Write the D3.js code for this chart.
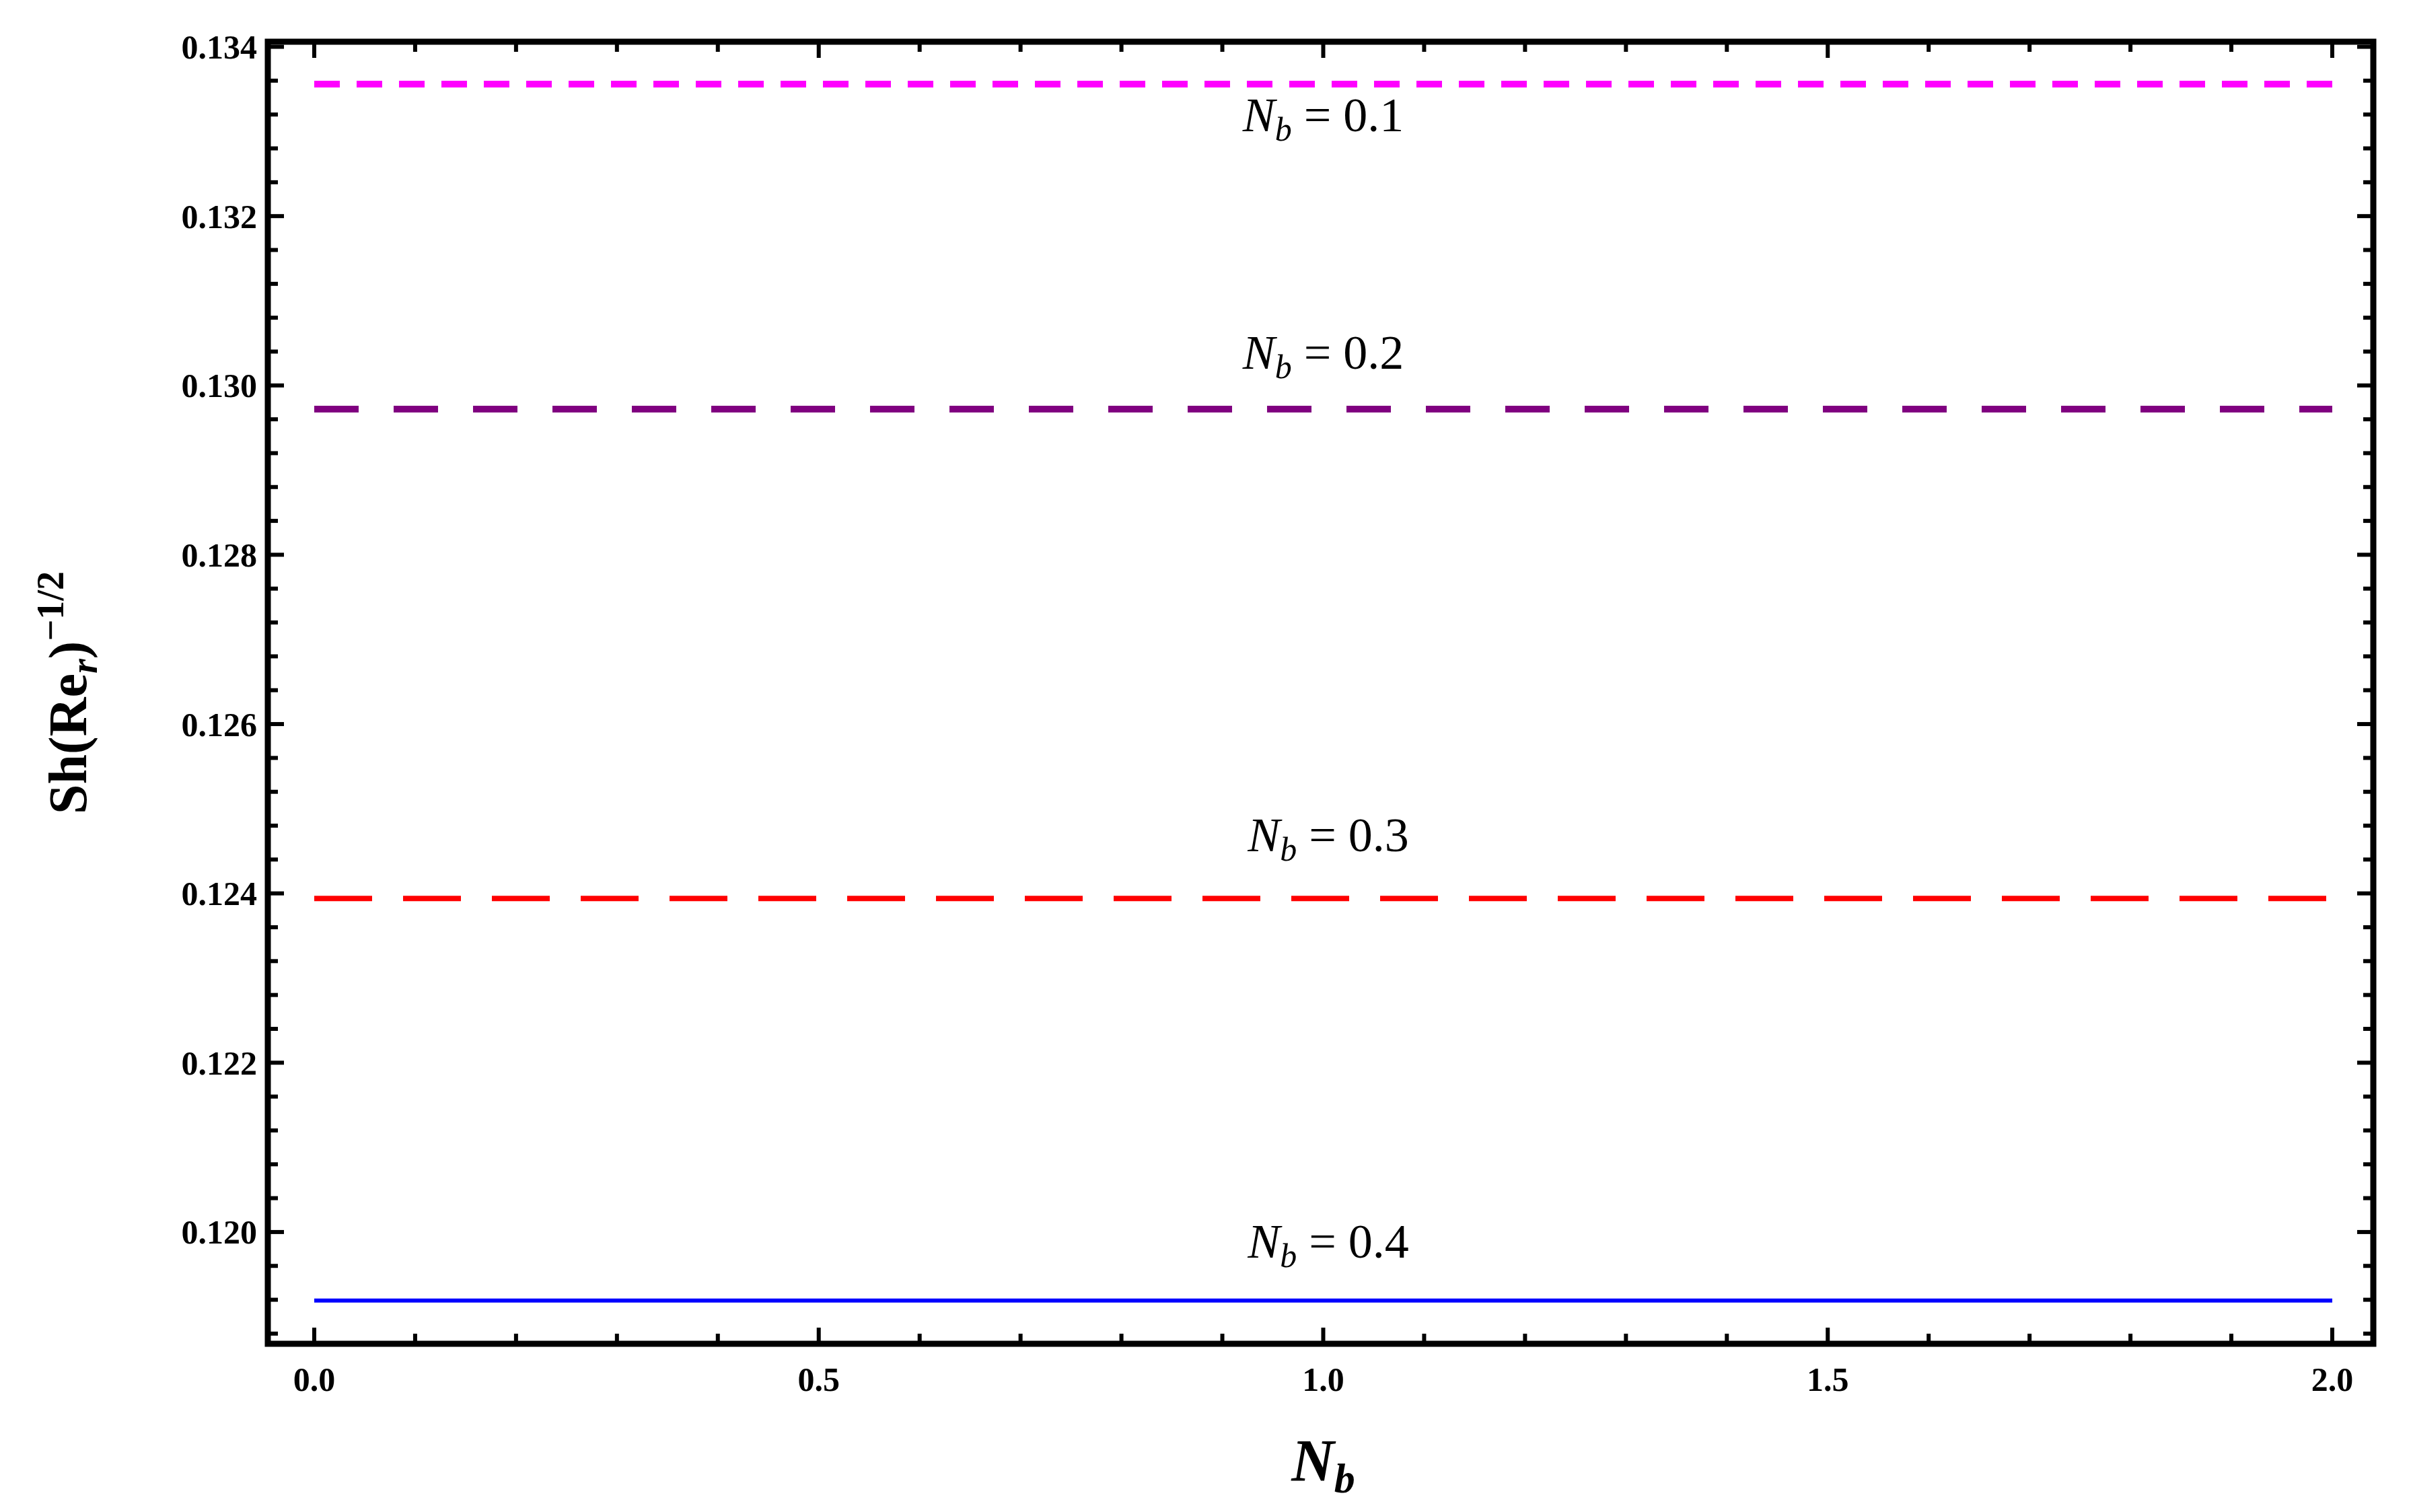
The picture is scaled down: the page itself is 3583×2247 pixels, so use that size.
<!DOCTYPE html>
<html>
<head>
<meta charset="utf-8">
<script src="https://cdn.jsdelivr.net/npm/d3@7"></script>
<style>
  body { margin: 0; background: #fff; }
  svg text { font-family: "Liberation Serif", "DejaVu Serif", serif; }
</style>
</head>
<body>
<svg id="chart" width="3583" height="2247"></svg>
<script>
// data
const nbValues = [0.1, 0.2, 0.3, 0.4];
const shValues = [0.13356, 0.12972, 0.12394, 0.11919];
const xSpan = [0, 2];
const colors = ["#ff00ff", "#800080", "#ff0000", "#0000ff"];
const dashes = ["38,25", "66,52", "86,46", null];
const widths = [10, 10, 8, 6];
const labelAt = [[1.0, 0.1330], [1.0, 0.1302], [1.005, 0.1245], [1.005, 0.1197]];
const xTicks = [0, 0.5, 1, 1.5, 2];
const yTicks = [0.120, 0.122, 0.124, 0.126, 0.128, 0.130, 0.132, 0.134];

const svg = d3.select("#chart");
const pLeft = 398, pRight = 3527, pTop = 62, pBottom = 1997;

const x = d3.scaleLinear().domain([-0.046, 2.0407]).range([pLeft, pRight]);
const y = d3.scaleLinear().domain([0.11868, 0.13406]).range([pBottom, pTop]);

// minor + major ticks on all sides, pointing inward
const xMinor = d3.range(0, 2.0001, 0.1);
const yMinor = d3.range(0.1188, 0.1341, 0.0004);
const isMajorX = v => Math.abs(v * 2 - Math.round(v * 2)) < 1e-6;
const isMajorY = v => Math.abs(v / 0.002 - Math.round(v / 0.002)) < 1e-6;

const ticks = svg.append("g").attr("stroke", "black").attr("stroke-width", 6);
xMinor.forEach(v => {
  const len = isMajorX(v) ? 24 : 15;
  ticks.append("line").attr("x1", x(v)).attr("x2", x(v)).attr("y1", pBottom).attr("y2", pBottom - len);
  ticks.append("line").attr("x1", x(v)).attr("x2", x(v)).attr("y1", pTop).attr("y2", pTop + len);
});
yMinor.forEach(v => {
  const len = isMajorY(v) ? 24 : 15;
  ticks.append("line").attr("x1", pLeft).attr("x2", pLeft + len).attr("y1", y(v)).attr("y2", y(v));
  ticks.append("line").attr("x1", pRight).attr("x2", pRight - len).attr("y1", y(v)).attr("y2", y(v));
});

// curves
const line = d3.line().x(d => x(d[0])).y(d => y(d[1]));
shValues.forEach((s, i) => {
  svg.append("path")
    .datum(xSpan.map(t => [t, s]))
    .attr("d", line)
    .attr("fill", "none")
    .attr("stroke", colors[i])
    .attr("stroke-width", widths[i])
    .attr("stroke-dasharray", dashes[i]);
});

// frame
svg.append("rect")
  .attr("x", pLeft).attr("y", pTop)
  .attr("width", pRight - pLeft).attr("height", pBottom - pTop)
  .attr("fill", "none").attr("stroke", "black").attr("stroke-width", 9);

// tick labels
svg.append("g").selectAll("text").data(yTicks).join("text")
  .attr("x", pLeft - 16).attr("y", d => y(d))
  .attr("dy", "0.35em").attr("text-anchor", "end")
  .attr("font-size", 50).attr("font-weight", "bold")
  .text(d => d.toFixed(3));

svg.append("g").selectAll("text").data(xTicks).join("text")
  .attr("x", d => x(d)).attr("y", pBottom + 70)
  .attr("text-anchor", "middle")
  .attr("font-size", 50).attr("font-weight", "bold")
  .text(d => d.toFixed(1));

// curve labels
nbValues.forEach((nb, i) => {
  const t = svg.append("text")
    .attr("x", x(labelAt[i][0])).attr("y", y(labelAt[i][1]))
    .attr("text-anchor", "middle").attr("font-size", 72);
  t.append("tspan").attr("font-style", "italic").text("N");
  t.append("tspan").attr("font-style", "italic").attr("font-size", 50).attr("dy", 14).text("b");
  t.append("tspan").attr("dy", -14).text(" = " + nb);
});

// axis titles
const xt = svg.append("text")
  .attr("x", x(1)).attr("y", 2200)
  .attr("text-anchor", "middle").attr("font-size", 88)
  .attr("font-weight", "bold").attr("font-style", "italic");
xt.append("tspan").text("N");
xt.append("tspan").attr("font-size", 62).attr("dy", 18).text("b");

const yt = svg.append("text")
  .attr("transform", `translate(128,${(pTop + pBottom) / 2}) rotate(-90)`)
  .attr("text-anchor", "middle").attr("font-size", 80).attr("font-weight", "bold");
yt.append("tspan").text("Sh(Re");
yt.append("tspan").attr("font-style", "italic").attr("font-size", 56).attr("dy", 16).text("r");
yt.append("tspan").attr("dy", -16).text(")");
yt.append("tspan").attr("font-size", 56).attr("dy", -34).text("\u22121/2");
</script>
</body>
</html>
